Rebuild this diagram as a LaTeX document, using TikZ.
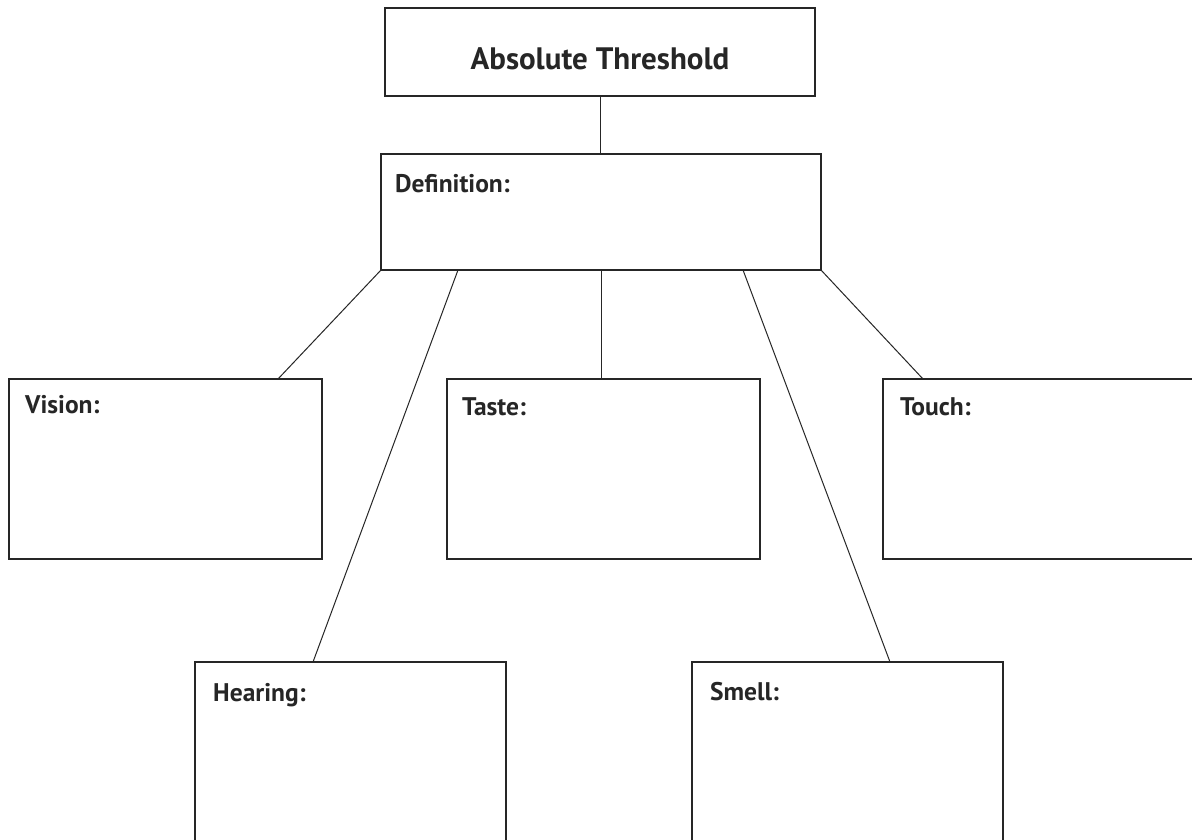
\documentclass[tikz,border=0pt]{standalone}
\usepackage{fontspec}
\setmainfont{PT Sans}
\usetikzlibrary{calc}
\begin{document}
\begin{tikzpicture}[x=1pt,y=-1pt,
  box/.style={draw=black!85, line width=1.8pt, rectangle, anchor=north west, inner sep=0pt, outer sep=0pt},
  link/.style={draw=black!85, line width=1pt},
  lbl/.style={font=\bfseries\fontsize{25.5}{28}\selectfont, anchor=base west, inner sep=0pt, text=black!85},
  ttl/.style={font=\bfseries\fontsize{31}{36}\selectfont, anchor=base, inner sep=0pt, text=black!85}]
\useasboundingbox (0,0) rectangle (1192,840);
\clip (0,0) rectangle (1192,840);
\fill[white] (0,0) rectangle (1192,840);
% boxes
\node[box, minimum width=430pt, minimum height=88pt] (abs) at (385,8) {};
\node[box, minimum width=440pt, minimum height=116pt] (def) at (381,154) {};
\node[box, minimum width=313pt, minimum height=180pt] (vision) at (9,379) {};
\node[box, minimum width=313pt, minimum height=180pt] (taste) at (447,379) {};
\node[box, minimum width=330pt, minimum height=180pt] (touch) at (883,379) {};
\node[box, minimum width=311pt, minimum height=200pt] (hearing) at (195,662) {};
\node[box, minimum width=311pt, minimum height=200pt] (smell) at (692,662) {};
% texts
\node[ttl] (abslbl) at ($(abs.north)+(0,62)$) {Absolute Threshold};
\node[lbl] (deflbl) at ($(def.north west)+(14,39)$) {Definition:};
\node[lbl] (visionlbl) at ($(vision.north west)+(16,34)$) {Vision:};
\node[lbl] (tastelbl) at ($(taste.north west)+(15,36)$) {Taste:};
\node[lbl] (touchlbl) at ($(touch.north west)+(17,36)$) {Touch:};
\node[lbl] (hearinglbl) at ($(hearing.north west)+(18,39)$) {Hearing:};
\node[lbl] (smelllbl) at ($(smell.north west)+(18,38)$) {Smell:};
% connectors
\draw[link] (abs.south) -- (abs.south |- def.north);
\draw[link] (def.south west) -- ($(vision.north west)+(269,0)$);
\draw[link] ($(def.south west)+(77,0)$) -- ($(hearing.north west)+(118,0)$);
\draw[link] (def.south) -- (def.south |- taste.north);
\draw[link] ($(def.south west)+(362,0)$) -- ($(smell.north west)+(198,0)$);
\draw[link] (def.south east) -- ($(touch.north west)+(40,0)$);
\end{tikzpicture}
\end{document}
